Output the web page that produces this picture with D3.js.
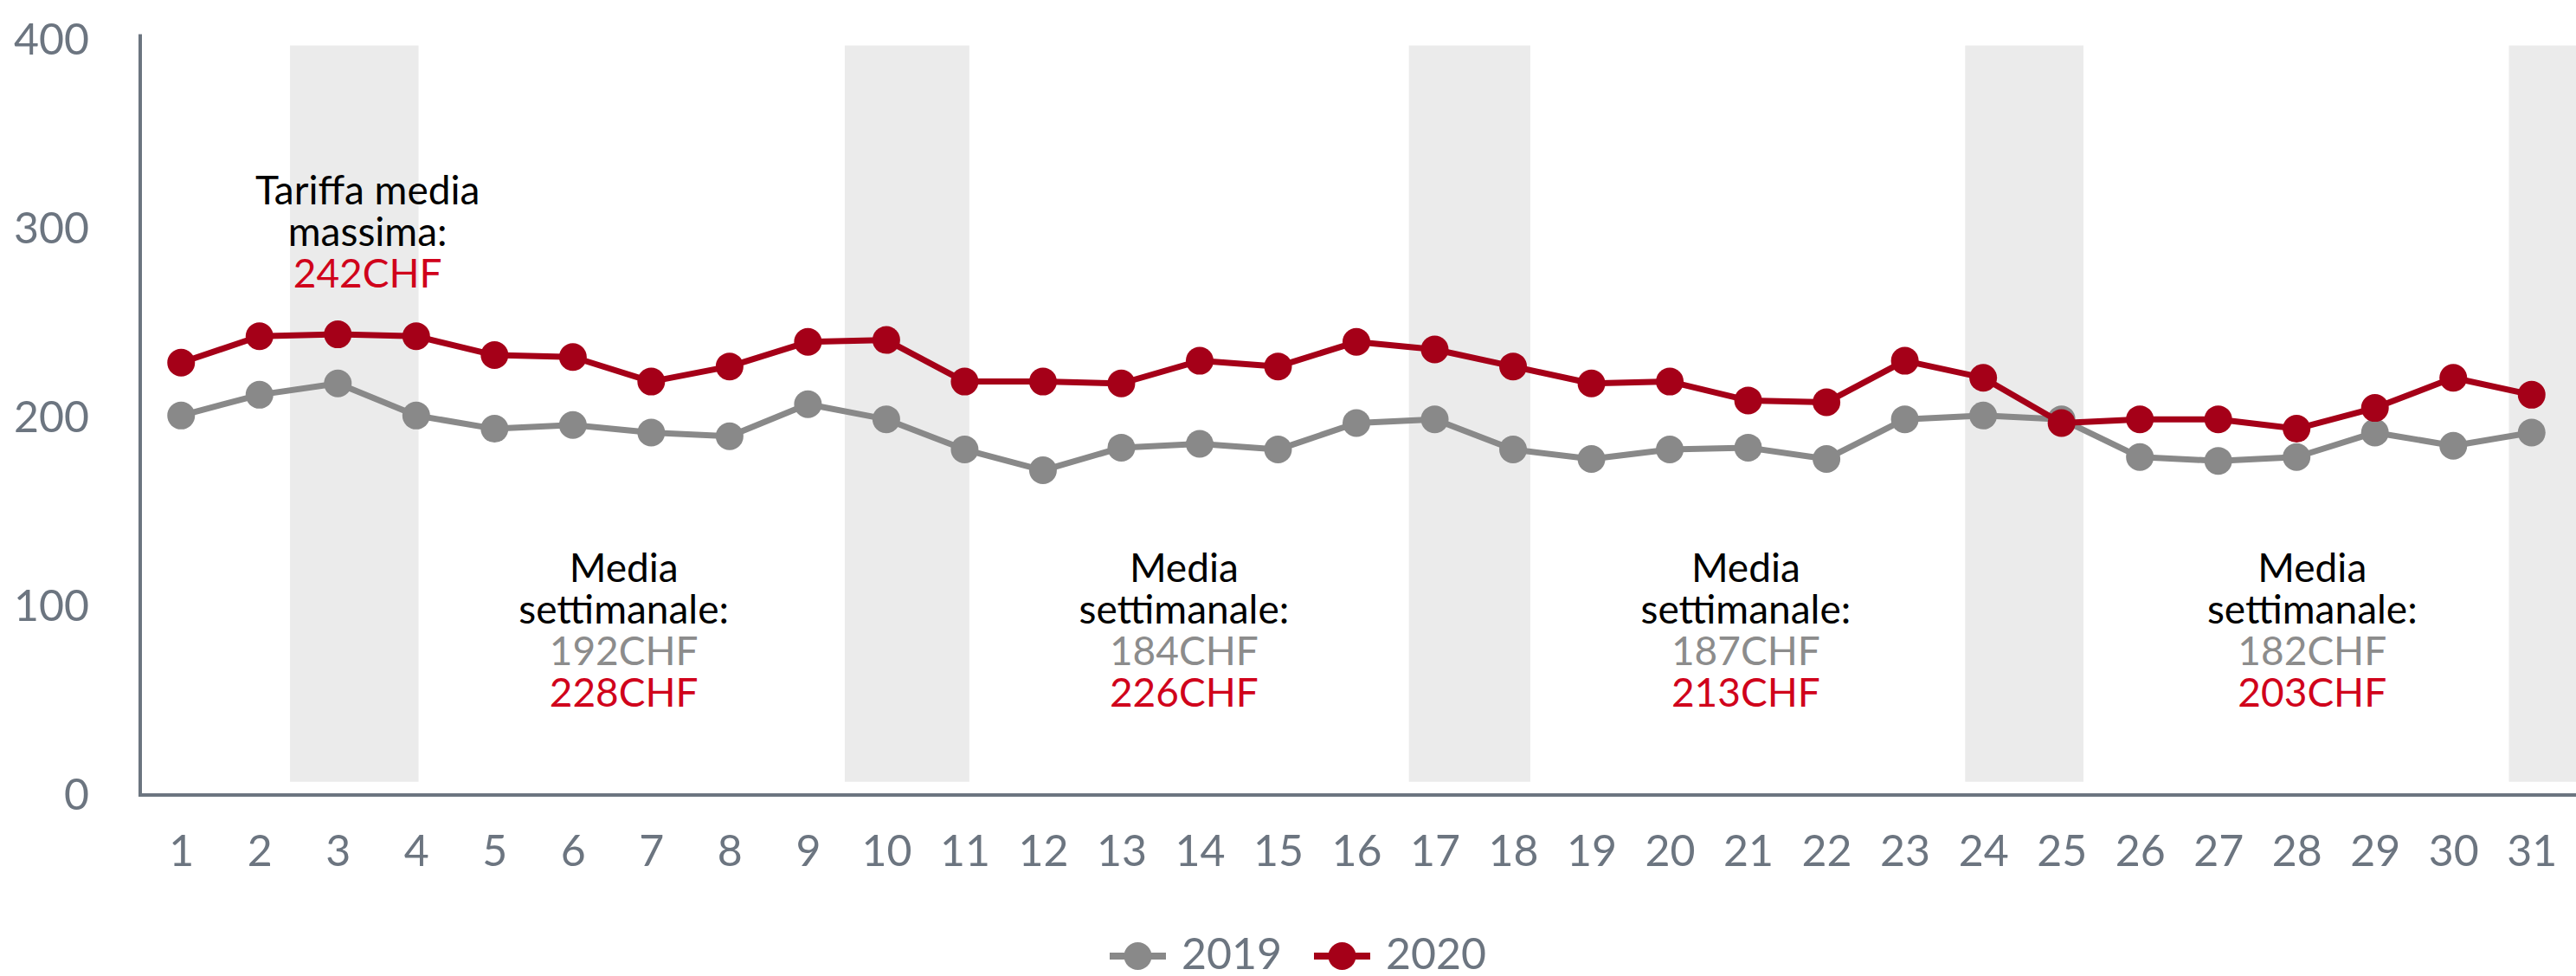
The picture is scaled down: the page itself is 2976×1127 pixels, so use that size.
<!DOCTYPE html>
<html>
<head>
<meta charset="utf-8">
<script src="https://cdn.jsdelivr.net/npm/d3@7"></script>
<style>
  body { margin: 0; background: #fff; }
  svg { display: block; font-family: Lato, "Open Sans", sans-serif; }
</style>
</head>
<body>
<div id="chart"></div>
<script>
// days of the month
const days = d3.range(1, 32);

// average daily rate, CHF
const values2019 = [201, 212, 218, 201, 194, 196, 192, 190, 207, 199, 183, 172, 184, 186, 183, 197,
                    199, 183, 178, 183, 184, 178, 199, 201, 199, 179, 177, 179, 192, 185, 192];
const values2020 = [229, 243, 244, 243, 233, 232, 219, 227, 240, 241, 219, 219, 218, 230, 227, 240,
                    236, 227, 218, 219, 209, 208, 230, 221, 197, 199, 199, 194, 205, 221, 212];

const yTicks = [0, 100, 200, 300, 400];

// shaded weekend bands, in day units
const weekendBands = [[2.39, 4.03], [9.47, 11.06], [16.67, 18.22], [23.77, 25.28], [30.71, 31.7]];

// annotations
const weeklyNotes = [
  { day: 6.65, y2019: '192CHF', y2020: '228CHF' },
  { day: 13.8, y2019: '184CHF', y2020: '226CHF' },
  { day: 20.97, y2019: '187CHF', y2020: '213CHF' },
  { day: 28.2, y2019: '182CHF', y2020: '203CHF' }
];
const maxNote = { day: 3.38, lines: ['Tariffa media', 'massima:'], value: '242CHF' };

const W = 2976, H = 1127;
const grey = '#898989', red = '#a50018', axisCol = '#6c7580';
const textRed = '#d0021b', textGrey = '#8c8c8c';

const svg = d3.select('#chart').append('svg')
  .attr('width', W).attr('height', H);

const x = d3.scaleLinear().domain([0.5, 31.5]).range([164, 2970]);
const y = d3.scaleLinear().domain([0, 400]).range([918, 46]);

// weekend shading
svg.append('g').selectAll('rect')
  .data(weekendBands)
  .join('rect')
  .attr('x', d => x(d[0]))
  .attr('width', d => x(d[1]) - x(d[0]))
  .attr('y', y(397))
  .attr('height', y(7) - y(397))
  .attr('fill', '#ebebeb');

// axes
const xAxis = svg.append('g')
  .attr('transform', `translate(0,${y(0)})`)
  .call(d3.axisBottom(x).tickValues(days).tickSize(0).tickPadding(46));
xAxis.select('.domain').remove();
xAxis.selectAll('text')
  .attr('fill', axisCol).style('font-size', '50px').style('font-family', 'Lato');

const yAxis = svg.append('g')
  .attr('transform', `translate(162,0)`)
  .call(d3.axisLeft(y).tickValues(yTicks).tickSize(0).tickPadding(59));
yAxis.select('.domain').remove();
yAxis.selectAll('text')
  .attr('fill', axisCol).style('font-size', '50px').style('font-family', 'Lato');

svg.append('line')
  .attr('x1', 162).attr('x2', 162)
  .attr('y1', y(403)).attr('y2', y(0) + 2)
  .attr('stroke', axisCol).attr('stroke-width', 4);
svg.append('line')
  .attr('x1', 162).attr('x2', W)
  .attr('y1', y(0)).attr('y2', y(0))
  .attr('stroke', axisCol).attr('stroke-width', 4);

// series
const series = [
  { name: '2019', values: values2019, color: grey },
  { name: '2020', values: values2020, color: red }
];

const line = d3.line()
  .x((d, i) => x(days[i]))
  .y(d => y(d));

series.forEach(s => {
  const g = svg.append('g');
  g.append('path')
    .datum(s.values)
    .attr('fill', 'none')
    .attr('stroke', s.color)
    .attr('stroke-width', 7)
    .attr('stroke-linejoin', 'round')
    .attr('d', line);
  g.selectAll('circle')
    .data(s.values)
    .join('circle')
    .attr('cx', (d, i) => x(days[i]))
    .attr('cy', d => y(d))
    .attr('r', 16)
    .attr('fill', s.color);
});

// annotations, one text per row
const lh = 48;
const rowText = (cx, cy, str, col) => svg.append('text')
  .attr('x', cx).attr('y', cy)
  .attr('text-anchor', 'middle')
  .attr('fill', col)
  .style('font-size', '46px')
  .text(str);

maxNote.lines.forEach((t, i) => rowText(x(maxNote.day), 236 + i * lh, t, '#000'));
rowText(x(maxNote.day), 236 + 2 * lh, maxNote.value, textRed);

weeklyNotes.forEach(n => {
  const rows = [['Media', '#000'], ['settimanale:', '#000'], [n.y2019, textGrey], [n.y2020, textRed]];
  rows.forEach((r, i) => rowText(x(n.day), 672 + i * lh, r[0], r[1]));
});

// legend
const legend = svg.append('g');
const legItems = [
  { s: series[0], x0: 1282 },
  { s: series[1], x0: 1518 }
];
const ly = 1104;
legItems.forEach(it => {
  legend.append('line')
    .attr('x1', it.x0).attr('x2', it.x0 + 65)
    .attr('y1', ly).attr('y2', ly)
    .attr('stroke', it.s.color).attr('stroke-width', 8);
  legend.append('circle')
    .attr('cx', it.x0 + 32.5).attr('cy', ly).attr('r', 16)
    .attr('fill', it.s.color);
  legend.append('text')
    .attr('x', it.x0 + 83).attr('y', ly + 15)
    .attr('fill', axisCol)
    .style('font-size', '50px')
    .text(it.s.name);
});
</script>
</body>
</html>
